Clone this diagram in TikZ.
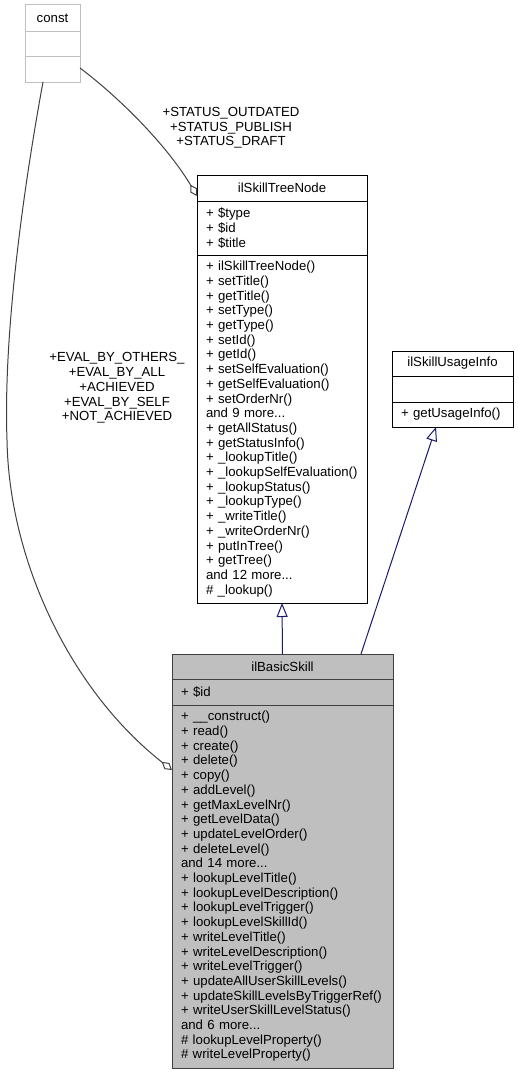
\documentclass[tikz,border=0pt]{standalone}
\usepackage{fontspec}
\setmainfont{Liberation Sans}
\usetikzlibrary{positioning, calc}
\usetikzlibrary{arrows.meta}

\begin{document}
\begin{tikzpicture}[x=1pt, y=-1pt, font=\fontsize{13.2}{14.7}\selectfont, line width=1pt,
    umlhead/.style={draw=black, fill=white, inner sep=0pt, outer sep=0pt, align=center},
    umlbody/.style={draw=black, fill=white, inner xsep=9pt, inner ysep=0pt, outer sep=0pt, align=left},
    inherit/.style={draw=navyedge, -{Triangle[open, length=14pt, width=11pt]}},
    aggr/.style={draw=grayedge, -{Diamond[open, length=13pt, width=8pt]}}]
        % Define colors
        \definecolor{navyedge}{HTML}{191970}
        \definecolor{grayedge}{HTML}{404040}
        \definecolor{constgray}{HTML}{BFBFBF}
        \definecolor{basicgray}{HTML}{BFBFBF}

        \useasboundingbox (0,0) rectangle (517,1073);

        % Nodes
        \node[umlhead, draw=constgray, anchor=north west, minimum width=55pt, minimum height=27pt] (const) at (25,5) {const};
        \node[umlbody, draw=constgray, text width=37pt, minimum height=25pt, below=0pt of const] (constattr) {};
        \node[umlbody, draw=constgray, text width=37pt, minimum height=25pt, below=0pt of constattr] (constmeth) {};

        \node[umlhead, anchor=north west, minimum width=170pt, minimum height=26pt] (treenode) at (197,175) {ilSkillTreeNode};
        \node[umlbody, text width=152pt, minimum height=54pt, below=0pt of treenode] (treenodeattr) {+ \$type\\+ \$id\\+ \$title};
        \node[umlbody, text width=152pt, minimum height=348pt, below=0pt of treenodeattr] (treenodemeth) {+ ilSkillTreeNode()\\+ setTitle()\\+ getTitle()\\+ setType()\\+ getType()\\+ setId()\\+ getId()\\+ setSelfEvaluation()\\+ getSelfEvaluation()\\+ setOrderNr()\\and 9 more...\\+ getAllStatus()\\+ getStatusInfo()\\+ \_lookupTitle()\\+ \_lookupSelfEvaluation()\\+ \_lookupStatus()\\+ \_lookupType()\\+ \_writeTitle()\\+ \_writeOrderNr()\\+ putInTree()\\+ getTree()\\and 12 more...\\\# \_lookup()};

        \node[umlhead, anchor=north west, minimum width=121pt, minimum height=25pt] (usage) at (392,351) {ilSkillUsageInfo};
        \node[umlbody, text width=103pt, minimum height=26pt, below=0pt of usage] (usageattr) {};
        \node[umlbody, text width=103pt, minimum height=25pt, below=0pt of usageattr] (usagemeth) {+ getUsageInfo()};

        \node[umlhead, fill=basicgray, draw=grayedge, anchor=north west, minimum width=221pt, minimum height=25pt] (basic) at (172,654) {ilBasicSkill};
        \node[umlbody, fill=basicgray, draw=grayedge, text width=203pt, minimum height=26pt, below=0pt of basic] (basicattr) {+ \$id};
        \node[umlbody, fill=basicgray, draw=grayedge, text width=203pt, minimum height=363pt, below=0pt of basicattr] (basicmeth) {+ \_\_construct()\\+ read()\\+ create()\\+ delete()\\+ copy()\\+ addLevel()\\+ getMaxLevelNr()\\+ getLevelData()\\+ updateLevelOrder()\\+ deleteLevel()\\and 14 more...\\+ lookupLevelTitle()\\+ lookupLevelDescription()\\+ lookupLevelTrigger()\\+ lookupLevelSkillId()\\+ writeLevelTitle()\\+ writeLevelDescription()\\+ writeLevelTrigger()\\+ updateAllUserSkillLevels()\\+ updateSkillLevelsByTriggerRef()\\+ writeUserSkillLevelStatus()\\and 6 more...\\\# lookupLevelProperty()\\\# writeLevelProperty()};

        % Labels
        \node[align=center] (statuslabel) at (231,128) {+STATUS\_OUTDATED\\+STATUS\_PUBLISH\\+STATUS\_DRAFT};
        \node[align=center] (evallabel) at (117,388) {+EVAL\_BY\_OTHERS\_\\+EVAL\_BY\_ALL\\+ACHIEVED\\+EVAL\_BY\_SELF\\+NOT\_ACHIEVED};

        % Edges
        \coordinate (evalbend) at (7,440);
        \draw[inherit] (basic.north) -- (treenodemeth.south);
        \draw[inherit] ($(basic.north west)+(189,0)$) -- ($(usagemeth.south west)+(44,0)$);
        \draw[aggr] ($(constmeth.north east)+(0,11)$) .. controls (125,102) and (170,150) .. ($(treenode.south west)+(0,-5)$);
        \draw[aggr] ($(constmeth.south west)+(18,0)$) .. controls (25,180) and (3,330) .. (evalbend) .. controls (9,560) and (70,690) .. ($(basicmeth.north west)+(0,65)$);
    \end{tikzpicture}
\end{document}
